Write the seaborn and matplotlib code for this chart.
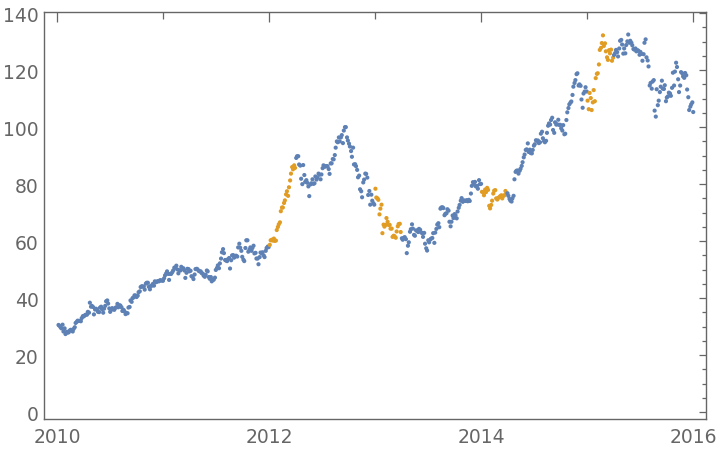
import numpy as np
import pandas as pd
import seaborn as sns
import matplotlib.dates as mdates
from matplotlib import pyplot as plt

# closing prices: Fridays and Tuesdays of every week
fri_2010 = [30.3, 29.4, 28.3, 27.4, 27.9, 28.6, 28.6, 29.2, 31.3, 32.1, 32.0, 33.0,
            33.6, 34.2, 35.2, 38.4, 37.3, 34.3, 36.3, 35.2, 36.7, 36.1, 36.3, 38.9,
            38.1, 35.2, 36.5, 35.9, 36.8, 36.8, 37.4, 35.5, 35.4, 34.8, 36.7, 39.2,
            40.0, 41.0, 40.4, 42.1, 43.9, 44.0, 43.0, 45.4, 44.0, 44.3, 45.0, 45.9,
            45.8, 45.9, 46.2, 46.1]
fri_2011 = [48.0, 49.4, 46.4, 48.5, 49.7, 50.7, 50.1, 49.8, 51.0, 50.5, 47.1, 50.3,
            49.4, 47.7, 46.7, 50.2, 50.1, 49.4, 48.8, 47.9, 48.2, 49.4, 46.8, 45.9,
            46.5, 49.9, 51.5, 52.2, 56.1, 55.8, 53.2, 53.7, 50.4, 55.0, 54.2, 54.9,
            57.8, 57.7, 54.5, 53.0, 60.3, 56.3, 57.8, 57.6, 55.7, 53.9, 51.9, 56.0,
            56.1, 54.4, 57.6, 57.9]
fri_2012 = [60.3, 60.2, 60.1, 63.9, 65.9, 70.5, 71.8, 74.3, 77.5, 78.9, 83.7, 85.2,
            85.7, 89.8, 86.9, 81.9, 86.7, 80.8, 80.5, 75.8, 80.3, 80.1, 82.7, 82.3,
            83.3, 83.4, 86.6, 86.3, 86.3, 83.6, 87.3, 88.7, 92.8, 94.7, 95.0, 97.2,
            98.8, 100.0, 95.3, 93.2, 89.6, 86.9, 86.3, 82.4, 78.2, 75.4, 81.6, 83.6,
            76.2, 72.8, 74.2, 72.8]
fri_2013 = [75.3, 74.5, 71.4, 62.8, 65.1, 68.1, 65.7, 64.4, 61.5, 61.7, 63.4, 66.0,
            63.2, 60.5, 61.4, 55.8, 59.6, 64.2, 64.4, 61.9, 63.6, 64.3, 63.1, 61.5,
            59.1, 56.7, 59.6, 60.9, 62.8, 63.0, 65.8, 64.9, 71.8, 71.6, 69.6, 71.2,
            66.8, 66.8, 68.1, 69.1, 70.4, 72.7, 75.1, 74.3, 74.1, 74.0, 74.1, 79.4,
            80.0, 79.2, 78.4, 80.0]
fri_2014 = [77.3, 76.1, 77.2, 78.0, 71.5, 74.2, 77.7, 75.0, 75.2, 75.8, 75.0, 76.1,
            76.7, 75.9, 74.2, 75.0, 81.7, 84.7, 83.7, 85.4, 87.7, 90.4, 92.2, 91.3,
            90.9, 92.0, 94.0, 95.2, 94.4, 97.7, 96.1, 94.7, 98.0, 101.3, 102.5, 99.0,
            101.7, 101.0, 100.8, 99.6, 100.7, 97.7, 105.2, 108.0, 109.0, 114.2, 116.5,
            118.9, 115.0, 109.7, 111.8, 114.0]
fri_2015 = [109.3, 112.0, 106.0, 113.0, 117.2, 118.9, 127.1, 129.5, 128.5, 126.6, 123.6,
            125.9, 123.3, 125.3, 127.1, 124.8, 130.3, 129.0, 127.6, 128.8, 132.5, 130.3,
            128.7, 127.2, 126.6, 126.8, 126.4, 123.3, 129.6, 124.5, 121.3, 115.5, 116.0,
            105.8, 113.3, 109.3, 114.2, 113.5, 114.7, 110.4, 112.1, 111.0, 119.1, 119.5,
            121.1, 112.3, 119.3, 117.8, 119.0, 113.2, 106.0, 108.0, 105.3]

tue_2010 = [30.6, 29.8, 30.7, 29.4, 28.2, 28.0, 28.9, 28.3, 29.8, 31.7, 32.0, 31.9, 33.7,
            34.0, 34.2, 34.9, 37.0, 36.9, 36.0, 36.0, 35.1, 37.0, 34.9, 37.3, 39.2, 36.4,
            35.9, 36.2, 36.6, 38.0, 37.5, 36.8, 35.9, 34.4, 34.7, 36.9, 38.7, 40.3, 40.9,
            40.9, 42.4, 44.2, 44.1, 45.1, 45.4, 43.1, 44.4, 44.4, 45.6, 46.0, 46.3, 46.2]
tue_2011 = [47.0, 48.7, 48.5, 48.5, 49.1, 50.7, 51.4, 48.7, 49.7, 50.3, 49.7, 48.9, 50.2,
            49.6, 47.5, 48.3, 50.3, 49.6, 49.4, 48.6, 47.5, 49.7, 47.4, 47.4, 46.4, 47.2,
            50.6, 50.5, 53.9, 57.2, 53.4, 53.0, 54.1, 53.3, 55.1, 54.7, 54.6, 59.1, 56.6,
            53.5, 57.6, 60.3, 57.0, 56.6, 58.4, 55.9, 53.9, 54.4, 55.7, 55.0, 56.6, 58.1]
tue_2012 = [58.7, 60.5, 60.9, 60.2, 65.0, 66.6, 71.8, 73.4, 76.4, 75.9, 81.3, 86.0, 86.6,
            89.2, 89.8, 86.5, 80.0, 83.2, 81.4, 79.2, 79.9, 81.7, 80.3, 81.6, 83.7, 81.7,
            85.6, 86.1, 86.3, 85.3, 87.3, 88.8, 90.2, 95.0, 96.4, 96.4, 94.4, 100.0, 96.4,
            94.2, 91.6, 92.8, 87.0, 85.0, 83.0, 77.5, 80.6, 83.7, 82.3, 77.6, 76.3, 73.3]
tue_2013 = [78.4, 75.0, 69.4, 72.8, 65.8, 65.7, 66.8, 65.7, 64.4, 61.9, 61.2, 65.2, 66.1,
            61.0, 61.2, 60.7, 58.4, 63.3, 65.9, 62.2, 63.8, 63.2, 64.0, 62.8, 62.9, 57.5,
            60.3, 60.6, 61.1, 59.4, 64.3, 66.3, 71.4, 71.9, 69.1, 69.8, 70.7, 65.2, 69.0,
            69.5, 68.0, 71.7, 74.2, 73.8, 74.2, 74.4, 74.5, 76.7, 80.7, 80.8, 79.4, 81.4]
tue_2014 = [80.1, 77.2, 78.1, 78.7, 72.4, 72.7, 76.7, 77.9, 74.6, 75.4, 76.1, 75.9, 77.6,
            76.8, 74.8, 73.9, 75.9, 84.3, 84.8, 84.7, 86.4, 89.4, 92.0, 94.3, 92.1, 90.8,
            93.5, 95.4, 95.3, 94.7, 98.4, 95.1, 95.2, 100.5, 100.9, 103.3, 98.0, 100.9, 102.6,
            100.8, 98.8, 97.5, 102.5, 106.7, 108.6, 111.3, 115.5, 118.6, 114.6, 114.5, 106.8, 112.5]
tue_2015 = [112.5, 106.3, 110.2, 108.7, 109.1, 118.7, 122.0, 127.8, 132.2, 129.4, 124.5, 127.0, 127.2,
            124.4, 126.0, 126.3, 127.6, 130.6, 125.8, 125.9, 130.1, 129.6, 129.6, 127.4, 127.6, 127.0,
            125.4, 125.7, 125.6, 130.8, 123.4, 114.6, 113.5, 116.5, 103.7, 107.7, 112.3, 116.3, 113.4,
            109.1, 110.8, 111.8, 113.8, 114.6, 122.6, 116.8, 114.6, 118.9, 117.3, 118.2, 110.5, 107.2,
            108.7]

# highlighted windows (first quarter of each year)
highlight_start = ["2012-01-01", "2013-01-01", "2014-01-01", "2015-01-01"]
highlight_end = ["2012-03-31", "2013-03-31", "2014-03-31", "2015-03-31"]

fri = fri_2010 + fri_2011 + fri_2012 + fri_2013 + fri_2014 + fri_2015
tue = tue_2010 + tue_2011 + tue_2012 + tue_2013 + tue_2014 + tue_2015
df = pd.concat([
    pd.DataFrame({"date": pd.date_range("2010-01-08", periods=len(fri), freq="W-FRI"), "close": fri}),
    pd.DataFrame({"date": pd.date_range("2010-01-05", periods=len(tue), freq="W-TUE"), "close": tue}),
]).sort_values("date")
df["group"] = "normal"
for s, e in zip(highlight_start, highlight_end):
    df.loc[(df["date"] >= s) & (df["date"] <= e), "group"] = "highlight"

sns.set_theme(style="white")
plt.rcParams["font.family"] = ["DejaVu Sans"]

fig = plt.figure(figsize=(7.2, 4.52), dpi=100)
ax = fig.add_axes([44 / 720, 32 / 452, 662 / 720, 407 / 452])

sns.scatterplot(data=df, x="date", y="close", hue="group",
                palette={"normal": "#5E81B5", "highlight": "#E19C24"},
                s=9, linewidth=0, legend=False, ax=ax)

ax.set_xlim(pd.Timestamp("2009-11-16"), pd.Timestamp("2016-02-14"))
ax.set_ylim(-2.4, 140.4)
ax.set_xlabel("")
ax.set_ylabel("")

ax.xaxis.set_major_locator(mdates.YearLocator(2))
ax.xaxis.set_major_formatter(mdates.DateFormatter("%Y"))
ax.xaxis.set_minor_locator(mdates.YearLocator(1))
ax.set_yticks(np.arange(0, 141, 20))
ax.set_yticks(np.arange(0, 141, 5), minor=True)

gray = "#666666"
for sp in ax.spines.values():
    sp.set_color(gray)
    sp.set_linewidth(1.0)
    sp.set_visible(True)
ax.tick_params(which="both", direction="in", colors=gray, top=True, right=True,
               labelsize=13.5, width=0.9)
ax.tick_params(axis="x", which="major", length=7, pad=6)
ax.tick_params(axis="x", which="minor", length=5)
ax.tick_params(axis="y", which="major", length=5, pad=4)
ax.tick_params(axis="y", which="minor", length=3)

fig.savefig("out.png", dpi=100)
